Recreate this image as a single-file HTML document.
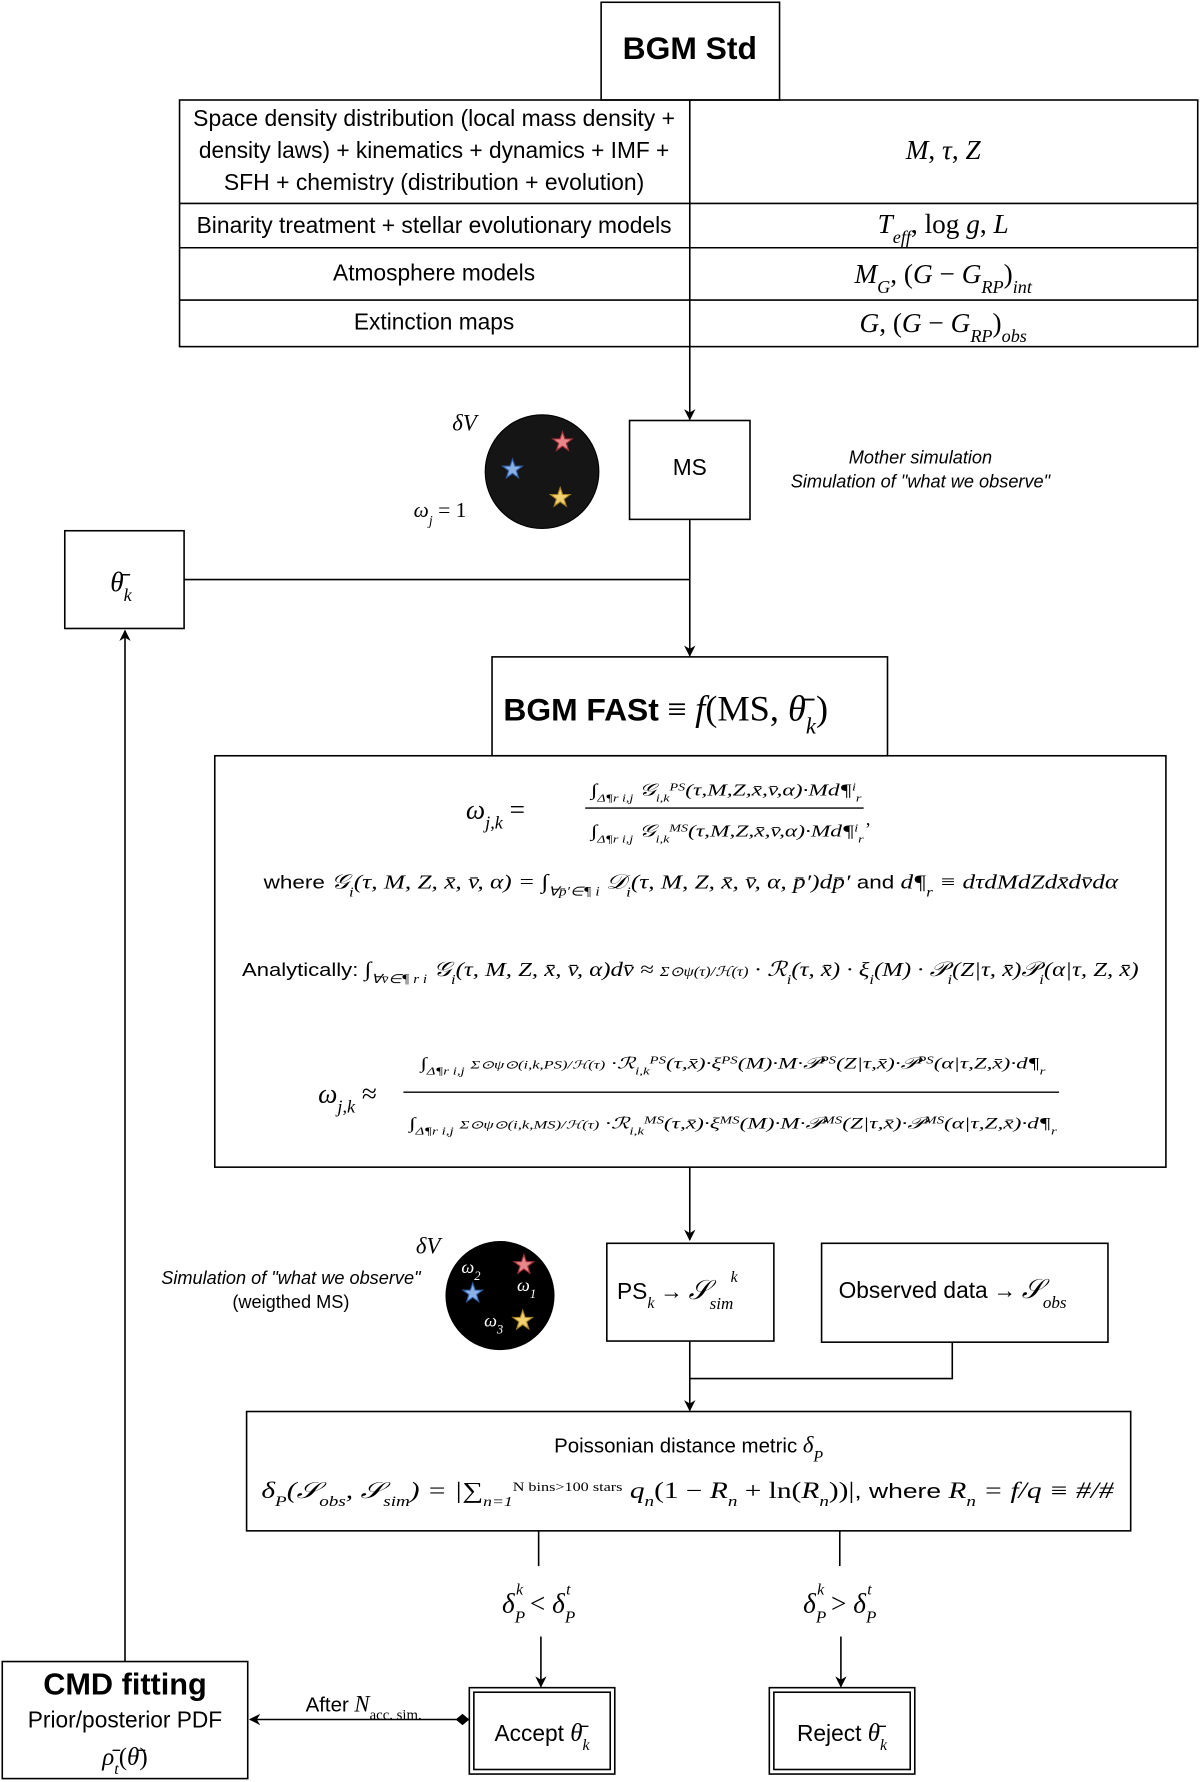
<!DOCTYPE html>
<html><head><meta charset="utf-8"><style>
html,body{margin:0;padding:0;background:#fff;}
svg{display:block;}
.s{font-family:"Liberation Sans",sans-serif;}
.m{font-family:"Liberation Serif",serif;font-style:italic;}
.r{font-family:"Liberation Serif",serif;font-style:normal;}
</style></head><body>
<svg width="1200" height="1782" viewBox="0 0 1056 1568" preserveAspectRatio="none" xmlns="http://www.w3.org/2000/svg">
<defs>
<marker id="a" markerWidth="10" markerHeight="10" refX="9" refY="5" orient="auto" markerUnits="userSpaceOnUse"><path d="M0,0 L10,5 L0,10 L3,5 z" fill="#000"/></marker>
<marker id="d" markerWidth="12" markerHeight="10" refX="1" refY="5" orient="auto" markerUnits="userSpaceOnUse"><path d="M0,5 L6,0 L12,5 L6,10 z" fill="#000"/></marker>
<polygon id="st" points="0,-9 2.1,-2.9 8.6,-2.8 3.4,1.1 5.3,7.3 0,3.6 -5.3,7.3 -3.4,1.1 -8.6,-2.8 -2.1,-2.9"/>
</defs>
<g fill="none" stroke="#000" stroke-width="1.4">
<rect x="529" y="2" width="157" height="86"/>
<rect x="158" y="88" width="896" height="217"/>
<line x1="607" y1="88" x2="607" y2="305"/>
<line x1="158" y1="179" x2="1054" y2="179"/>
<line x1="158" y1="218" x2="1054" y2="218"/>
<line x1="158" y1="264" x2="1054" y2="264"/>
<line x1="607" y1="305" x2="607" y2="369" marker-end="url(#a)"/>
<rect x="554" y="370" width="106" height="87"/>
<rect x="57" y="467" width="105" height="86"/>
<line x1="162" y1="510" x2="607" y2="510"/>
<line x1="607" y1="457" x2="607" y2="577" marker-end="url(#a)"/>
<rect x="433" y="578" width="348" height="87"/>
<rect x="189" y="665" width="837" height="362"/>
<line x1="607" y1="1027" x2="607" y2="1091" marker-end="url(#a)"/>
<rect x="534" y="1094" width="147" height="86"/>
<rect x="723" y="1094" width="252" height="87"/>
<line x1="607" y1="1180" x2="607" y2="1241" marker-end="url(#a)"/>
<polyline points="838,1181 838,1213 607,1213"/>
<rect x="217" y="1242" width="778" height="105"/>
<line x1="474" y1="1347" x2="474" y2="1378"/>
<line x1="739" y1="1347" x2="739" y2="1378"/>
<line x1="476" y1="1440" x2="476" y2="1484" marker-end="url(#a)"/>
<line x1="740" y1="1440" x2="740" y2="1484" marker-end="url(#a)"/>
<rect x="413" y="1485" width="128" height="76"/>
<rect x="417" y="1489" width="120" height="68"/>
<rect x="677" y="1485" width="128" height="76"/>
<rect x="681" y="1489" width="120" height="68"/>
<rect x="2" y="1462" width="216" height="103"/>
<line x1="412" y1="1513" x2="220" y2="1513" marker-start="url(#d)" marker-end="url(#a)"/>
<line x1="110" y1="1462" x2="110" y2="555" marker-end="url(#a)"/>
</g>
<circle cx="477" cy="415" r="50" fill="#151515" stroke="#000"/>
<use href="#st" x="495" y="389" fill="#e8878a" stroke="#a03038" stroke-width="1"/>
<use href="#st" x="451" y="413" fill="#8ab0e6" stroke="#3060a8" stroke-width="1"/>
<use href="#st" x="493" y="438" fill="#f0d070" stroke="#a88020" stroke-width="1"/>
<circle cx="440" cy="1140" r="48" fill="#000"/>
<use href="#st" x="461" y="1113" fill="#e8878a" stroke="#a03038" stroke-width="1"/>
<use href="#st" x="416" y="1138" fill="#8ab0e6" stroke="#3060a8" stroke-width="1"/>
<use href="#st" x="460" y="1162" fill="#f0d070" stroke="#a88020" stroke-width="1"/>
<g fill="#fff" class="m" font-size="16">
<text x="406" y="1120">ω<tspan font-size="11" baseline-shift="sub">2</tspan></text>
<text x="455" y="1136">ω<tspan font-size="11" baseline-shift="sub">1</tspan></text>
<text x="426" y="1167">ω<tspan font-size="11" baseline-shift="sub">3</tspan></text>
</g>
<g fill="#000">
<text class="s" x="607" y="52" font-size="28" font-weight="bold" text-anchor="middle">BGM Std</text>
<g class="s" font-size="20" text-anchor="middle">
<text x="382" y="111" textLength="424" lengthAdjust="spacingAndGlyphs">Space density distribution (local mass density +</text>
<text x="382" y="139" textLength="414" lengthAdjust="spacingAndGlyphs">density laws) + kinematics + dynamics + IMF +</text>
<text x="382" y="167" textLength="370" lengthAdjust="spacingAndGlyphs">SFH + chemistry (distribution + evolution)</text>
<text x="382" y="205" textLength="418" lengthAdjust="spacingAndGlyphs">Binarity treatment + stellar evolutionary models</text>
<text x="382" y="247">Atmosphere models</text>
<text x="382" y="290">Extinction maps</text>
<text x="607" y="418">MS</text>
</g>
<g class="m" font-size="24" text-anchor="middle">
<text x="830" y="140">M<tspan class="r">, </tspan>τ<tspan class="r">, </tspan>Z</text>
<text x="830" y="205">T<tspan font-size="16" baseline-shift="sub">eff</tspan><tspan class="r">, log </tspan>g<tspan class="r">, </tspan>L</text>
<text x="830" y="249">M<tspan font-size="16" baseline-shift="sub">G</tspan><tspan class="r">, (</tspan>G <tspan class="r">− </tspan>G<tspan font-size="16" baseline-shift="sub">RP</tspan><tspan class="r">)</tspan><tspan font-size="16" baseline-shift="sub">int</tspan></text>
<text x="830" y="292">G<tspan class="r">, (</tspan>G <tspan class="r">− </tspan>G<tspan font-size="16" baseline-shift="sub">RP</tspan><tspan class="r">)</tspan><tspan font-size="16" baseline-shift="sub">obs</tspan></text>
</g>
<text class="m" x="398" y="379" font-size="20">δV</text>
<text class="m" x="364" y="455" font-size="19">ω<tspan font-size="12" baseline-shift="sub">j</tspan><tspan class="r"> = 1</tspan></text>
<g class="s" font-size="16" font-style="italic" text-anchor="middle">
<text x="810" y="408">Mother simulation</text>
<text x="810" y="429">Simulation of "what we observe"</text>
<text x="256" y="1130">Simulation of "what we observe"</text>
</g>
<text class="s" x="256" y="1151" font-size="16" text-anchor="middle">(weigthed MS)</text>
<text class="m" x="366" y="1103" font-size="20">δV</text>
<text class="m" x="97" y="520" font-size="24">θ̄<tspan font-size="16" baseline-shift="sub">k</tspan></text>
<text x="443" y="634" font-size="28"><tspan class="s" font-weight="bold">BGM FASt</tspan><tspan class="r" font-size="30"> ≡ </tspan><tspan class="m" font-size="32">f</tspan><tspan class="r" font-size="32">(MS, </tspan><tspan class="m" font-size="32">θ̄</tspan><tspan class="m" font-size="20" baseline-shift="sub">k</tspan><tspan class="r" font-size="32">)</tspan></text>
<text class="m" x="410" y="720" font-size="24">ω<tspan font-size="16" baseline-shift="sub">j,k</tspan><tspan class="r"> =</tspan></text>
<line x1="515" y1="711" x2="760" y2="711" stroke="#000" stroke-width="1.2"/>
<text class="m" x="520" y="700" font-size="15" textLength="238" lengthAdjust="spacingAndGlyphs">∫<tspan font-size="9" baseline-shift="sub">Δ¶r i,j</tspan> 𝒢<tspan font-size="9" baseline-shift="sub">i,k</tspan><tspan font-size="9" baseline-shift="super">PS</tspan>(τ,M,Z,x̄,v̄,α)·Md¶<tspan font-size="9" baseline-shift="super">i</tspan><tspan font-size="9" baseline-shift="sub">r</tspan></text>
<text class="m" x="520" y="736" font-size="15" textLength="240" lengthAdjust="spacingAndGlyphs">∫<tspan font-size="9" baseline-shift="sub">Δ¶r i,j</tspan> 𝒢<tspan font-size="9" baseline-shift="sub">i,k</tspan><tspan font-size="9" baseline-shift="super">MS</tspan>(τ,M,Z,x̄,v̄,α)·Md¶<tspan font-size="9" baseline-shift="super">i</tspan><tspan font-size="9" baseline-shift="sub">r</tspan></text>
<text class="r" x="762" y="726" font-size="16">,</text>
<text x="232" y="782" font-size="18" textLength="752" lengthAdjust="spacingAndGlyphs"><tspan class="s" font-size="16">where </tspan><tspan class="m">𝒢<tspan font-size="12" baseline-shift="sub">i</tspan>(τ, M, Z, x̄, v̄, α) = ∫<tspan font-size="11" baseline-shift="sub">∀p̄′∈¶ i</tspan> 𝒟<tspan font-size="12" baseline-shift="sub">i</tspan>(τ, M, Z, x̄, v̄, α, p̄′)dp̄′ </tspan><tspan class="s" font-size="16">and </tspan><tspan class="m">d¶<tspan font-size="12" baseline-shift="sub">r</tspan> ≡ dτdMdZdx̄dv̄dα</tspan></text>
<text x="213" y="859" font-size="18" textLength="789" lengthAdjust="spacingAndGlyphs"><tspan class="s" font-size="16">Analytically: </tspan><tspan class="m">∫<tspan font-size="11" baseline-shift="sub">∀v̄∈¶ r i</tspan> 𝒢<tspan font-size="12" baseline-shift="sub">i</tspan>(τ, M, Z, x̄, v̄, α)dv̄ ≈ <tspan font-size="12">Σ⊙ψ(τ)/ℋ(τ)</tspan> · ℛ<tspan font-size="12" baseline-shift="sub">i</tspan>(τ, x̄) · ξ<tspan font-size="12" baseline-shift="sub">i</tspan>(M) · 𝒫<tspan font-size="12" baseline-shift="sub">i</tspan>(Z|τ, x̄)𝒫<tspan font-size="12" baseline-shift="sub">i</tspan>(α|τ, Z, x̄)</tspan></text>
<text class="m" x="280" y="970" font-size="24">ω<tspan font-size="16" baseline-shift="sub">j,k</tspan><tspan class="r"> ≈</tspan></text>
<line x1="355" y1="961" x2="932" y2="961" stroke="#000" stroke-width="1.2"/>
<text class="m" x="370" y="940" font-size="14" textLength="550" lengthAdjust="spacingAndGlyphs">∫<tspan font-size="9" baseline-shift="sub">Δ¶r i,j</tspan> <tspan font-size="10">Σ⊙ψ⊙(i,k,PS)/ℋ(τ)</tspan> ·ℛ<tspan font-size="9" baseline-shift="sub">i,k</tspan><tspan font-size="9" baseline-shift="super">PS</tspan>(τ,x̄)·ξ<tspan font-size="9" baseline-shift="super">PS</tspan>(M)·M·𝒫<tspan font-size="9" baseline-shift="super">PS</tspan>(Z|τ,x̄)·𝒫<tspan font-size="9" baseline-shift="super">PS</tspan>(α|τ,Z,x̄)·d¶<tspan font-size="9" baseline-shift="sub">r</tspan></text>
<text class="m" x="360" y="993" font-size="14" textLength="570" lengthAdjust="spacingAndGlyphs">∫<tspan font-size="9" baseline-shift="sub">Δ¶r i,j</tspan> <tspan font-size="10">Σ⊙ψ⊙(i,k,MS)/ℋ(τ)</tspan> ·ℛ<tspan font-size="9" baseline-shift="sub">i,k</tspan><tspan font-size="9" baseline-shift="super">MS</tspan>(τ,x̄)·ξ<tspan font-size="9" baseline-shift="super">MS</tspan>(M)·M·𝒫<tspan font-size="9" baseline-shift="super">MS</tspan>(Z|τ,x̄)·𝒫<tspan font-size="9" baseline-shift="super">MS</tspan>(α|τ,Z,x̄)·d¶<tspan font-size="9" baseline-shift="sub">r</tspan></text>
<text x="543" y="1143" font-size="20"><tspan class="s">PS</tspan><tspan class="m" font-size="14" baseline-shift="sub">k</tspan><tspan class="r"> → </tspan><tspan class="m" font-size="24">𝒮</tspan><tspan class="m" font-size="15" baseline-shift="sub">sim</tspan></text>
<text class="m" x="643" y="1128" font-size="14">k</text>
<text x="738" y="1142" font-size="20"><tspan class="s">Observed data</tspan><tspan class="r"> → </tspan><tspan class="m" font-size="24">𝒮</tspan><tspan class="m" font-size="15" baseline-shift="sub">obs</tspan></text>
<text x="606" y="1278" font-size="18" text-anchor="middle"><tspan class="s">Poissonian distance metric </tspan><tspan class="m" font-size="20">δ</tspan><tspan class="m" font-size="14" baseline-shift="sub">P</tspan></text>
<text x="230" y="1318" font-size="20" textLength="750" lengthAdjust="spacingAndGlyphs"><tspan class="m">δ<tspan font-size="13" baseline-shift="sub">P</tspan>(𝒮<tspan font-size="13" baseline-shift="sub">obs</tspan>, 𝒮<tspan font-size="13" baseline-shift="sub">sim</tspan>) = |∑<tspan font-size="12" baseline-shift="sub">n=1</tspan><tspan class="r" font-size="11" baseline-shift="super">N bins&gt;100 stars</tspan> q<tspan font-size="13" baseline-shift="sub">n</tspan><tspan class="r">(1 − </tspan>R<tspan font-size="13" baseline-shift="sub">n</tspan><tspan class="r"> + ln(</tspan>R<tspan font-size="13" baseline-shift="sub">n</tspan><tspan class="r">))|</tspan></tspan><tspan class="s" font-size="18">, where </tspan><tspan class="m">R<tspan font-size="13" baseline-shift="sub">n</tspan> = f/q ≡ #/#</tspan></text>
<text class="m" x="474" y="1419" font-size="24" text-anchor="middle">δ<tspan font-size="15" baseline-shift="sub">P</tspan><tspan font-size="14" dy="-16" dx="-8">k</tspan><tspan class="r" dy="16"> &lt; </tspan>δ<tspan font-size="15" baseline-shift="sub">P</tspan><tspan font-size="14" dy="-16" dx="-8">t</tspan></text>
<text class="m" x="739" y="1419" font-size="24" text-anchor="middle">δ<tspan font-size="15" baseline-shift="sub">P</tspan><tspan font-size="14" dy="-16" dx="-8">k</tspan><tspan class="r" dy="16"> &gt; </tspan>δ<tspan font-size="15" baseline-shift="sub">P</tspan><tspan font-size="14" dy="-16" dx="-8">t</tspan></text>
<text x="477" y="1532" font-size="20" text-anchor="middle"><tspan class="s">Accept </tspan><tspan class="m" font-size="22">θ̄</tspan><tspan class="m" font-size="14" baseline-shift="sub">k</tspan></text>
<text x="741" y="1532" font-size="20" text-anchor="middle"><tspan class="s">Reject </tspan><tspan class="m" font-size="22">θ̄</tspan><tspan class="m" font-size="14" baseline-shift="sub">k</tspan></text>
<text x="320" y="1506" font-size="18" text-anchor="middle"><tspan class="s">After </tspan><tspan class="m" font-size="20">N</tspan><tspan class="r" font-size="13" baseline-shift="sub">acc. sim.</tspan></text>
<text class="s" x="110" y="1491" font-size="27" font-weight="bold" text-anchor="middle">CMD fitting</text>
<text class="s" x="110" y="1520" font-size="20" text-anchor="middle">Prior/posterior PDF</text>
<text class="m" x="110" y="1553" font-size="22" text-anchor="middle">ρ̄<tspan font-size="14" baseline-shift="sub">t</tspan><tspan class="r">(</tspan>θ̄<tspan class="r">)</tspan></text>
</g>
</svg>
</body></html>
